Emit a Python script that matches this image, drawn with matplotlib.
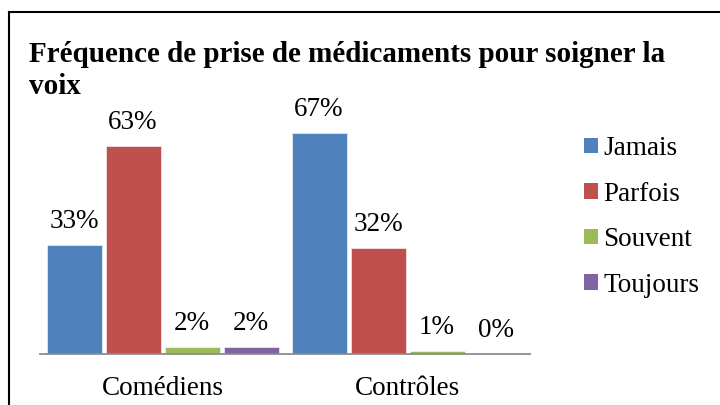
import matplotlib.pyplot as plt
import numpy as np
from matplotlib.patches import Patch
from matplotlib.lines import Line2D

# data
groups = ['Comédiens', 'Contrôles']
series = ['Jamais', 'Parfois', 'Souvent', 'Toujours']
jamais = [33, 67]
parfois = [63, 32]
souvent = [2, 1]
toujours = [2, 0]
colors = ['#4F81BD', '#C0504D', '#9BBB59', '#8064A2']

plt.rcParams['font.family'] = ['Liberation Serif', 'DejaVu Serif']

W, H = 720, 405
fig = plt.figure(figsize=(W / 100, H / 100), dpi=100)
fig.patch.set_facecolor('white')

# plot area in pixels: x 40..530, y 90..354
ax = fig.add_axes([40 / W, 1 - 354 / H, 490 / W, 264 / H])
ax.set_xlim(-0.5, 1.5)
ax.set_ylim(0, 80)

x = np.arange(len(groups))
step = 59 / 245
width = 55 / 245
for i, (name, vals) in enumerate(zip(series, [jamais, parfois, souvent, toujours])):
    pos = x + (i - 1.5) * step
    ax.bar(pos, vals, width, color=colors[i], edgecolor='white', linewidth=0.4, label=name)
    for px, v in zip(pos, vals):
        ax.annotate(f'{v}%', (px, v), xytext=(0, 12.2), textcoords='offset points',
                    ha='center', va='baseline', fontsize=19.5)

for s in ['top', 'right', 'left']:
    ax.spines[s].set_visible(False)
ax.spines['bottom'].set_color('#8c8c8c')
ax.spines['bottom'].set_linewidth(1.3)
ax.set_yticks([])
ax.set_xticks(x)
ax.set_xticklabels(groups, fontsize=19.5)
ax.tick_params(axis='x', length=0, pad=16)

# title, two lines as in the original (wrapped)
fig.text(29 / W, 1 - 62 / H, 'Fréquence de prise de médicaments pour soigner la',
         fontsize=21, fontweight='bold', ha='left', va='baseline')
fig.text(29 / W, 1 - 94 / H, 'voix',
         fontsize=21, fontweight='bold', ha='left', va='baseline')

# legend
handles = [Patch(facecolor=c, edgecolor='none') for c in colors]
fig.legend(handles, series, loc='upper left', bbox_to_anchor=(584 / W, 1 - 136 / H),
           frameon=False, fontsize=19.5, handlelength=0.52, handleheight=0.52,
           handletextpad=0.2, labelspacing=0.76, borderaxespad=0, borderpad=0)

# outer frame (left and top)
fig.add_artist(Line2D([9 / W, 9 / W], [0, 1 - 12 / H], transform=fig.transFigure,
                      color='black', linewidth=1.5))
fig.add_artist(Line2D([9 / W, 1], [1 - 12 / H, 1 - 12 / H], transform=fig.transFigure,
                      color='black', linewidth=1.5))

plt.savefig('out.png', dpi=100)
